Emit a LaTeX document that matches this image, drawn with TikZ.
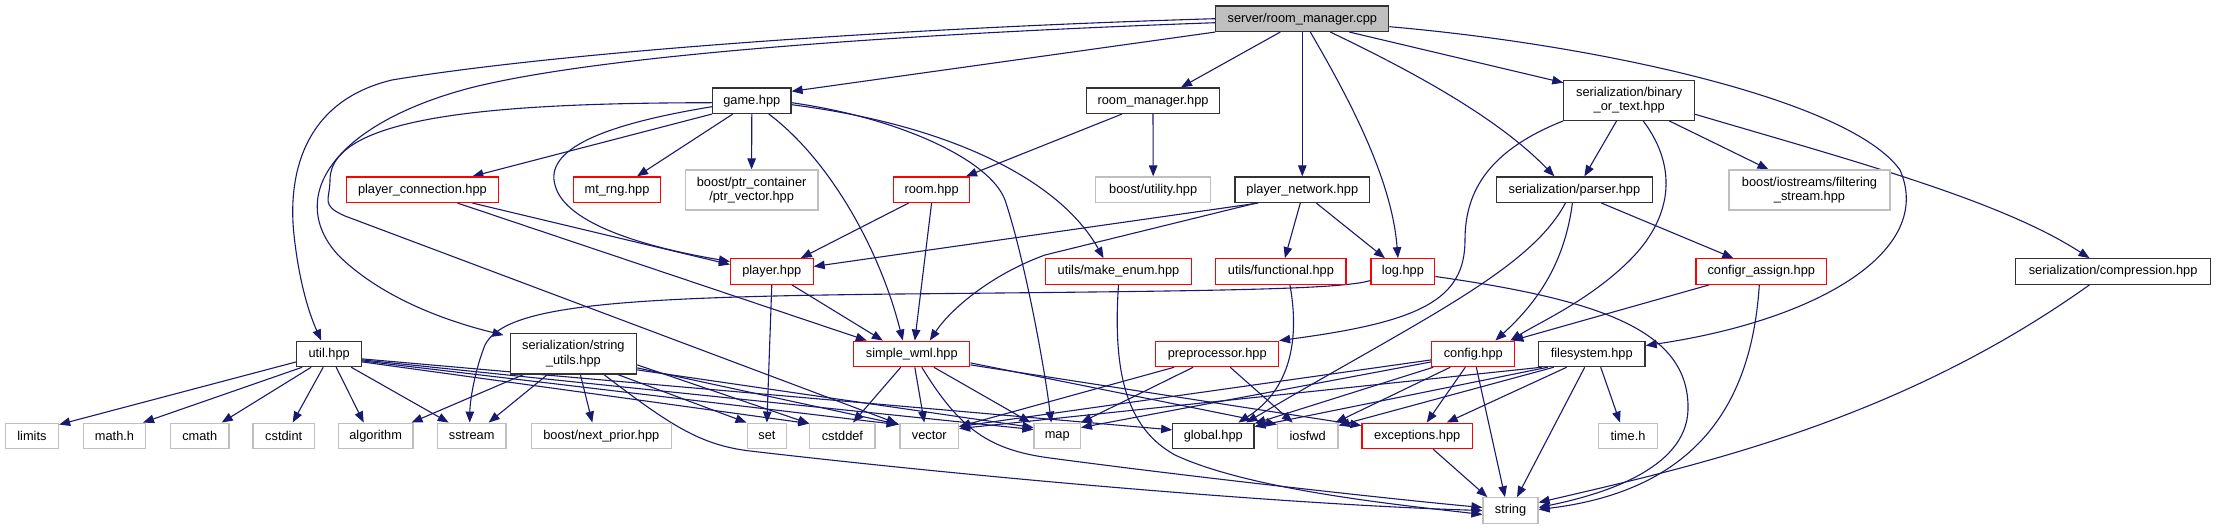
\documentclass[tikz,border=0pt]{standalone}
\usepackage{fontspec}
\setmainfont{Liberation Sans}
\usetikzlibrary{arrows.meta}
\definecolor{edgec}{HTML}{191970}
\definecolor{rootfill}{HTML}{BFBFBF}
\definecolor{graybd}{HTML}{BFBFBF}
\newcommand\nodefont{\fontsize{12.8}{14.5}\selectfont}
\pgfdeclarelayer{bg}
\pgfsetlayers{bg,main}
\tikzset{
  box/.style={draw, line width=1.2pt, fill=white, inner sep=0pt, font=\nodefont, align=center, minimum height=25.5pt},
  docbox/.style={box, draw=black!80},
  rootbox/.style={box, draw=black!80, fill=rootfill},
  redbox/.style={box, draw=red},
  graybox/.style={box, draw=graybd},
  tall/.style={minimum height=40pt},
  e/.style={draw=edgec, line width=1.1pt, -{Triangle[length=11pt,width=8.5pt]}}
}
\begin{document}
\begin{tikzpicture}[x=1pt,y=-1pt]
\useasboundingbox (0,0) rectangle (2216,529);
\begin{pgfonlayer}{bg}
\fill[white] (0,0) rectangle (2216,529);
\end{pgfonlayer}
% nodes
\node[rootbox, minimum width=173pt] (root) at (1302.3,18.7) {server/room\_manager.cpp};
\node[docbox, minimum width=78.4pt] (game) at (751.8,100.7) {game.hpp};
\node[docbox, minimum width=133pt] (roommgr) at (1153,100.7) {room\_manager.hpp};
\node[docbox, tall, minimum width=130.7pt] (binary) at (1629.2,100.3) {serialization/binary\\\_or\_text.hpp};
\node[redbox, minimum width=152pt] (pconn) at (422.4,189.7) {player\_connection.hpp};
\node[redbox, minimum width=87.3pt] (mtrng) at (617,189.7) {mt\_rng.hpp};
\node[graybox, tall, minimum width=132.7pt] (ptrvec) at (751.6,190) {boost/ptr\_container\\/ptr\_vector.hpp};
\node[redbox, minimum width=75.6pt] (room) at (931.6,189.7) {room.hpp};
\node[graybox, minimum width=114.7pt] (utility) at (1153.2,189.7) {boost/utility.hpp};
\node[docbox, minimum width=134.5pt] (pnet) at (1302.3,189.7) {player\_network.hpp};
\node[docbox, minimum width=156.2pt] (parser) at (1574.4,189.7) {serialization/parser.hpp};
\node[graybox, tall, minimum width=161pt] (filtering) at (1809.5,190) {boost/iostreams/filtering\\\_stream.hpp};
\node[redbox, minimum width=82.6pt] (player) at (771.8,271.5) {player.hpp};
\node[redbox, minimum width=146.3pt] (makeenum) at (1118.5,271.5) {utils/make\_enum.hpp};
\node[redbox, minimum width=130.3pt] (functional) at (1280.9,271.5) {utils/functional.hpp};
\node[redbox, minimum width=63.7pt] (log) at (1402.9,271.5) {log.hpp};
\node[redbox, minimum width=130.6pt] (configr) at (1761.3,271.5) {configr\_assign.hpp};
\node[docbox, minimum width=195.4pt] (compression) at (2113.1,271.5) {serialization/compression.hpp};
\node[docbox, minimum width=64.7pt] (util) at (329.2,353.9) {util.hpp};
\node[docbox, minimum width=126.5pt, minimum height=40.3pt] (strutils) at (573.4,353.9) {serialization/string\\\_utils.hpp};
\node[redbox, minimum width=116.1pt] (swml) at (911.8,353.9) {simple\_wml.hpp};
\node[redbox, minimum width=122.7pt] (preproc) at (1217.2,353.9) {preprocessor.hpp};
\node[redbox, minimum width=82.9pt] (config) at (1473.3,353.9) {config.hpp};
\node[docbox, minimum width=106.7pt] (filesystem) at (1591.7,353.9) {filesystem.hpp};
\node[graybox, minimum width=53.3pt] (limits) at (31.9,435.9) {limits};
\node[graybox, minimum width=61.9pt] (mathh) at (114.5,435.9) {math.h};
\node[graybox, minimum width=58.5pt] (cmath) at (199.7,435.9) {cmath};
\node[graybox, minimum width=61.3pt] (cstdint) at (283.7,435.9) {cstdint};
\node[graybox, minimum width=74.5pt] (algorithm) at (375.7,435.9) {algorithm};
\node[graybox, minimum width=68.4pt] (sstream) at (471.7,435.9) {sstream};
\node[graybox, minimum width=139.7pt] (nextprior) at (601.3,435.9) {boost/next\_prior.hpp};
\node[graybox, minimum width=39.6pt] (set) at (766.9,435.9) {set};
\node[graybox, minimum width=65.2pt] (cstddef) at (842.4,435.9) {cstddef};
\node[graybox, minimum width=58.5pt] (vector) at (929.3,435.9) {vector};
\node[graybox, minimum width=46.3pt] (map) at (1057.2,435.9) {map};
\node[docbox, minimum width=81.2pt] (global) at (1213.3,435.9) {global.hpp};
\node[graybox, minimum width=60.4pt] (iosfwd) at (1307.7,435.9) {iosfwd};
\node[redbox, minimum width=110.4pt] (exceptions) at (1417.2,435.9) {exceptions.hpp};
\node[graybox, minimum width=58.5pt] (timeh) at (1628,435.9) {time.h};
\node[graybox, minimum width=55pt] (string) at (1510.5,510.5) {string};
% edges
\begin{pgfonlayer}{bg}
% root
\draw[e] (root.south west) -- ([yshift=-4pt]game.north east);
\draw[e] (root.west) .. controls (900,28) and (560,52) .. (392,80) .. controls (300,102) and (288,180) .. (294,235) .. controls (300,290) and (312,320) .. ([xshift=-8pt]util.north);
\draw[e] ([yshift=-4pt]root.west) .. controls (900,34) and (600,55) .. (470,88) .. controls (330,125) and (285,200) .. (340,257) .. controls (385,300) and (450,322) .. ([xshift=-6pt,yshift=-2pt]strutils.north west);
\draw[e] ([xshift=-22pt]root.south) -- ([xshift=28pt]roommgr.north);
\draw[e] (root.south) -- (pnet.north);
\draw[e] ([xshift=8pt]root.south) .. controls (1350,100) and (1392,180) .. ([xshift=-5pt]log.north);
\draw[e] ([xshift=47pt]root.south) -- ([yshift=-3pt]binary.north west);
\draw[e] ([xshift=28pt]root.south) .. controls (1420,75) and (1500,120) .. ([xshift=-20pt]parser.north);
\draw[e] ([yshift=-8pt]root.east) .. controls (1600,45) and (1850,100) .. (1900,170) .. controls (1935,250) and (1820,320) .. ([yshift=-5pt]filesystem.north east);
% game
\draw[e] (game.south west) -- ([xshift=50pt]pconn.north);
\draw[e] ([xshift=-19pt]game.south) -- ([xshift=20pt]mtrng.north);
\draw[e] (game.south) -- (ptrvec.north);
\draw[e] ([yshift=-6pt]game.west) .. controls (600,125) and (545,150) .. (555,185) .. controls (565,225) and (650,248) .. ([yshift=10pt]player.west);
\draw[e] ([yshift=-2pt]game.west) .. controls (500,103) and (330,115) .. (330,180) .. controls (330,200) and (320,205) .. (345,216) -- ([xshift=-2pt,yshift=-1pt]vector.north west);
\draw[e] ([xshift=17pt]game.south) .. controls (830,160) and (880,250) .. ([xshift=-9pt]swml.north);
\draw[e] ([yshift=-2pt]game.east) .. controls (900,118) and (990,160) .. (1005,200) .. controls (1025,260) and (1045,370) .. ([xshift=-6pt]map.north);
\draw[e] ([yshift=-4pt]game.east) .. controls (950,125) and (1060,180) .. ([xshift=-15pt]makeenum.north);
% room manager
\draw[e] ([xshift=-31pt]roommgr.south) -- ([xshift=-4pt]room.north east);
\draw[e] (roommgr.south) -- (utility.north);
% room
\draw[e] ([xshift=-23pt]room.south) -- ([xshift=29pt]player.north);
\draw[e] (room.south) -- ([xshift=3pt]swml.north);
% player connection
\draw[e] ([xshift=50pt]pconn.south) -- ([yshift=7pt]player.west);
\draw[e] ([xshift=35pt]pconn.south) -- ([xshift=-45pt]swml.north);
% player
\draw[e] (player.south) -- (set.north);
\draw[e] ([xshift=20pt]player.south) -- ([xshift=-29pt]swml.north);
% player network
\draw[e] ([xshift=-44pt]pnet.south) -- ([yshift=5pt]player.east);
\draw[e] ([xshift=-46pt]pnet.south) -- (1045,255) .. controls (990,275) and (950,310) .. ([xshift=18pt]swml.north);
\draw[e] ([xshift=-2pt]pnet.south) -- ([xshift=4pt]functional.north);
\draw[e] ([xshift=14pt]pnet.south) -- ([xshift=-18pt]log.north);
% make_enum, functional
\draw[e] (makeenum.south) .. controls (1112,380) and (1130,430) .. (1175,455) .. controls (1250,490) and (1400,505) .. ([yshift=-4pt]string.west);
\draw[e] ([xshift=9pt]functional.south) .. controls (1300,340) and (1290,390) .. ([xshift=25pt]global.north);
% log
\draw[e] ([yshift=-9pt]log.west) .. controls (1340,290) and (1200,291) .. (900,294) .. controls (620,297) and (505,305) .. (485,345) .. controls (475,370) and (470,400) .. ([xshift=-2pt]sstream.north);
\draw[e] ([yshift=-5pt]log.east) .. controls (1600,300) and (1690,330) .. (1688,410) .. controls (1686,470) and (1600,495) .. ([yshift=3pt]string.east);
% binary_or_text
\draw[e] ([xshift=-12.6pt]binary.south) -- ([xshift=10pt]parser.north);
\draw[e] ([xshift=14pt]binary.south) .. controls (1680,170) and (1670,220) .. (1630,260) .. controls (1590,300) and (1540,322) .. ([xshift=-5pt]config.north east);
\draw[e] ([xshift=40pt]binary.south) -- ([xshift=-41pt]filtering.north);
\draw[e] ([yshift=-14pt]binary.east) .. controls (1850,160) and (2000,200) .. ([xshift=-23.6pt]compression.north);
\draw[e] (binary.south west) .. controls (1490,150) and (1465,190) .. (1465,240) .. controls (1465,300) and (1420,322) .. (preproc.north east);
% parser
\draw[e] ([xshift=-2pt]parser.south) .. controls (1565,260) and (1540,300) .. ([xshift=-20pt]config.north east);
\draw[e] ([xshift=-9pt]parser.south) .. controls (1530,270) and (1420,320) .. ([xshift=33pt]global.north);
\draw[e] ([xshift=27pt]parser.south) -- ([xshift=-28pt]configr.north);
% configr_assign
\draw[e] ([xshift=-52pt]configr.south) -- ([xshift=-3pt]config.north east);
\draw[e] ([xshift=-2pt]configr.south) .. controls (1752,400) and (1700,490) .. ([yshift=1pt]string.east);
% compression
\draw[e] ([xshift=-23.6pt]compression.south) .. controls (1900,420) and (1700,465) .. ([yshift=8pt]string.east);
% config
\draw[e] ([yshift=-6pt]config.west) -- ([yshift=-4pt]vector.north east);
\draw[e] ([yshift=-8pt]config.west) -- ([yshift=-5pt]map.north east);
\draw[e] ([xshift=-40pt]config.south) -- ([yshift=-1pt]global.north east);
\draw[e] ([xshift=-23pt]config.south) -- ([xshift=-3pt]iosfwd.north east);
\draw[e] ([xshift=-8pt]config.south) -- ([xshift=9.5pt]exceptions.north);
\draw[e] ([xshift=3pt]config.south) -- ([xshift=-5.5pt]string.north);
% filesystem
\draw[e] ([xshift=9pt]filesystem.south) -- ([xshift=-8pt]timeh.north);
\draw[e] ([xshift=-7pt]filesystem.south) -- ([xshift=6.5pt]string.north);
\draw[e] ([xshift=-25pt]filesystem.south) -- ([xshift=29.5pt]exceptions.north);
\draw[e] ([xshift=-38pt]filesystem.south) -- ([yshift=-3pt]iosfwd.north east);
\draw[e] ([xshift=-44pt]filesystem.south) -- ([yshift=-4pt]global.north east);
\draw[e] ([xshift=-50pt]filesystem.south) -- ([yshift=-6pt]vector.north east);
% preprocessor
\draw[e] ([xshift=-43pt]preproc.south) -- ([yshift=-4pt]vector.north east);
\draw[e] ([xshift=-24pt]preproc.south) -- (map.north east);
\draw[e] ([xshift=13pt]preproc.south) -- ([xshift=-15pt]iosfwd.north);
% simple_wml
\draw[e] ([xshift=-11pt]swml.south) -- ([xshift=10.6pt]cstddef.north);
\draw[e] ([xshift=3pt]swml.south) -- ([xshift=-5pt]vector.north);
\draw[e] ([xshift=22pt]swml.south) -- ([xshift=-3pt]map.north west);
\draw[e] ([xshift=10pt]swml.south) .. controls (960,430) and (990,450) .. (1050,458) .. controls (1200,478) and (1400,500) .. ([yshift=3pt]string.west);
\draw[e] ([yshift=-9pt]swml.east) -- ([yshift=-2pt]iosfwd.north west);
\draw[e] ([yshift=-11pt]swml.east) -- ([yshift=-3pt]exceptions.north west);
% util
\draw[e] ([yshift=-8pt]util.west) -- ([yshift=-2pt]limits.north east);
\draw[e] ([xshift=-27pt]util.south) -- ([xshift=-3pt]mathh.north east);
\draw[e] ([xshift=-18pt]util.south) -- ([xshift=22pt]cmath.north);
\draw[e] ([xshift=-6pt]util.south) -- ([xshift=9pt]cstdint.north);
\draw[e] ([xshift=7pt]util.south) -- ([xshift=-12pt]algorithm.north);
\draw[e] ([xshift=22pt]util.south) -- ([xshift=-23pt]sstream.north);
\draw[e] ([yshift=-8pt]util.east) -- ([yshift=-1pt]cstddef.north west);
\draw[e] ([yshift=-7pt]util.east) -- ([xshift=-2pt,yshift=-2pt]vector.north west);
\draw[e] ([yshift=-6pt]util.east) -- ([yshift=-7pt]map.north west);
\draw[e] ([yshift=-5pt]util.east) -- ([yshift=6pt]global.west);
% string_utils
\draw[e] ([xshift=-50pt]strutils.south) -- ([xshift=-2pt]algorithm.north east);
\draw[e] ([xshift=-26pt]strutils.south) -- ([xshift=17pt]sstream.north);
\draw[e] ([xshift=7pt]strutils.south) -- ([xshift=-9pt]nextprior.north);
\draw[e] ([xshift=30.6pt]strutils.south) .. controls (670,425) and (700,445) .. (750,451) .. controls (1000,480) and (1300,505) .. (string.west);
\draw[e] ([xshift=44.6pt]strutils.south) -- (set.north west);
\draw[e] ([yshift=-11pt]strutils.east) -- ([yshift=-1pt]cstddef.north west);
\draw[e] ([yshift=-14pt]strutils.east) -- ([yshift=-2pt]vector.north west);
\draw[e] ([yshift=-16pt]strutils.east) -- ([yshift=-5pt]map.north west);
% exceptions
\draw[e] ([xshift=16pt]exceptions.south) -- ([xshift=5pt]string.north west);
\end{pgfonlayer}
\end{tikzpicture}
\end{document}
